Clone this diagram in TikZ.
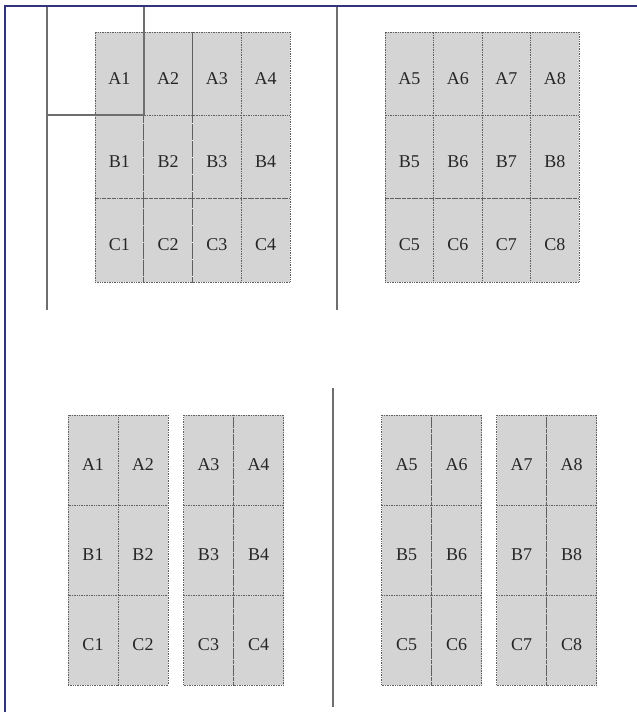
\documentclass[tikz,border=0pt]{standalone}
\usepackage{fontspec}
\setmainfont{Liberation Serif}
\usetikzlibrary{positioning}
\definecolor{frameBlue}{HTML}{34347A}
\definecolor{cellGray}{HTML}{D4D4D4}
\definecolor{ruleGray}{HTML}{6E6E6E}
\definecolor{ink}{HTML}{262626}

\begin{document}
\begin{tikzpicture}[x=1pt,y=-1pt,
  cell/.style={draw=gray!75!black,densely dotted,line width=0.7pt,fill=cellGray,
    inner sep=0pt,outer sep=0pt,text=ink,text height=21pt,text depth=0pt,
    font=\fontsize{18}{20}\selectfont},
  topcell/.style={cell,minimum width=48.6pt,minimum height=83.33pt},
  lowcell/.style={cell,minimum width=50pt,minimum height=90pt},
  rule/.style={draw=ruleGray,line width=1.7pt}]
\useasboundingbox (0,0) rectangle (637,712);
% upper sheets, four columns each
\foreach \r [count=\i from 0] in {A,B,C}{
  \foreach \c in {1,...,4}
    \node[topcell] (t\r\c) at ({95+48.75*(\c-0.5)},{32+83.33*(\i+0.5)}) {\r\c};
  \foreach \c in {5,...,8}
    \node[topcell] (t\r\c) at ({385+48.5*(\c-4.5)},{32+83.33*(\i+0.5)}) {\r\c};
}
% lower sheets, split in pairs of columns
\foreach \r [count=\i from 0] in {A,B,C}
  \foreach \c/\cx in {1/93,2/143,3/208.5,4/258.5,5/406.5,6/456.5,7/521.5,8/571.5}
    \node[lowcell] (b\r\c) at (\cx,{415+90*(\i+0.5)}) {\r\c};
% cut lines
\draw[rule] (47,7) -- (47,310);
\draw[rule] (47,0 |- tA1.south east) -- (tA1.south east) -- (tA1.south east |- 0,7);
\draw[rule] (337,7) -- (337,310);
\draw[rule] (333,388) -- (333,707);
% frame
\draw[frameBlue,line width=2.2pt] (4.6,712) -- (4.6,5.7) -- (637,5.7);
\end{tikzpicture}
\end{document}
